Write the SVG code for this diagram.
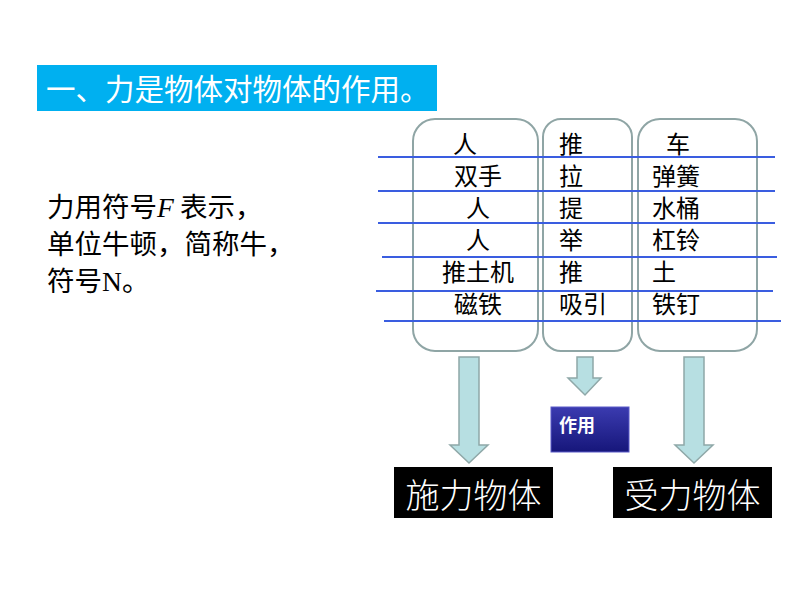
<svg xmlns="http://www.w3.org/2000/svg" width="800" height="600" viewBox="0 0 800 600">
<defs>
<linearGradient id="gb" x1="0" y1="0" x2="0" y2="1">
<stop offset="0" stop-color="#3b3bb0"/>
<stop offset="1" stop-color="#16167a"/>
</linearGradient>
<style>
.cjk{font-family:"Noto Sans CJK SC","Noto Sans",sans-serif;}
.col{fill:none;stroke:#8fa5a5;stroke-width:2;}
.rule{stroke:#3a5de0;stroke-width:2;}
.cell{font-size:24px;fill:#000;}
.arrow{fill:#b7dfe2;stroke:#8fa8a8;stroke-width:1.5;}
.lbl{font-size:34px;fill:#fff;font-weight:300;}
</style>
</defs>
<rect width="800" height="600" fill="#fff"/>
<g id="title">
<rect x="37" y="65" width="400" height="46" fill="#00b0f0"/>
<text x="46" y="100" class="cjk" font-size="29.5" fill="#fff">一、力是物体对物体的作用。</text>
</g>
<g id="definition" class="cjk" font-size="27.5" fill="#000">
<text x="47" y="217">力用符号<tspan font-family="Liberation Serif,serif" font-style="italic">F</tspan> 表示，</text>
<text x="47" y="254">单位牛顿，简称牛，</text>
<text x="47" y="291">符号<tspan font-family="Liberation Serif,serif">N</tspan>。</text>
</g>
<g id="table">
<rect class="col" x="413" y="119" width="125" height="232" rx="22"/>
<rect class="col" x="543" y="119" width="89" height="232" rx="18"/>
<rect class="col" x="638" y="119" width="119" height="232" rx="22"/>
<g class="cjk cell">
<text x="453" y="153">人</text>
<text x="478" y="185" text-anchor="middle">双手</text>
<text x="466" y="217">人</text>
<text x="466" y="249">人</text>
<text x="478" y="281" text-anchor="middle">推土机</text>
<text x="478" y="313" text-anchor="middle">磁铁</text>
<text x="559" y="153">推</text>
<text x="559" y="185">拉</text>
<text x="559" y="217">提</text>
<text x="559" y="249">举</text>
<text x="559" y="281">推</text>
<text x="559" y="313">吸引</text>
<text x="666" y="153">车</text>
<text x="652" y="185">弹簧</text>
<text x="652" y="217">水桶</text>
<text x="652" y="249">杠铃</text>
<text x="652" y="281">土</text>
<text x="652" y="313">铁钉</text>
</g>
<line class="rule" x1="378" y1="157" x2="775" y2="157"/>
<line class="rule" x1="378" y1="191" x2="775" y2="191"/>
<line class="rule" x1="378" y1="223" x2="775" y2="223"/>
<line class="rule" x1="382" y1="257" x2="777" y2="257"/>
<line class="rule" x1="376" y1="291" x2="773" y2="291"/>
<line class="rule" x1="384" y1="321" x2="781" y2="321"/>
</g>
<g id="connectors">
<polygon class="arrow" points="459,357 479,357 479,445 488,445 469,463 450,445 459,445"/>
<polygon class="arrow" points="577,357 593,357 593,378 601,378 585,395 568,378 577,378"/>
<polygon class="arrow" points="684,357 704,357 704,445 713,445 694,463 675,445 684,445"/>
</g>
<g id="effect">
<rect x="551" y="407" width="78" height="45" fill="url(#gb)" stroke="#5a5ac8" stroke-width="1"/>
<text x="559" y="432" class="cjk" font-size="18" font-weight="bold" fill="#fff">作用</text>
</g>
<g id="exerting">
<rect x="394" y="467" width="159" height="51" fill="#000"/>
<text x="473.5" y="508" text-anchor="middle" class="cjk lbl">施力物体</text>
</g>
<g id="receiving">
<rect x="613" y="467" width="159" height="51" fill="#000"/>
<text x="692.5" y="508" text-anchor="middle" class="cjk lbl">受力物体</text>
</g>
</svg>
